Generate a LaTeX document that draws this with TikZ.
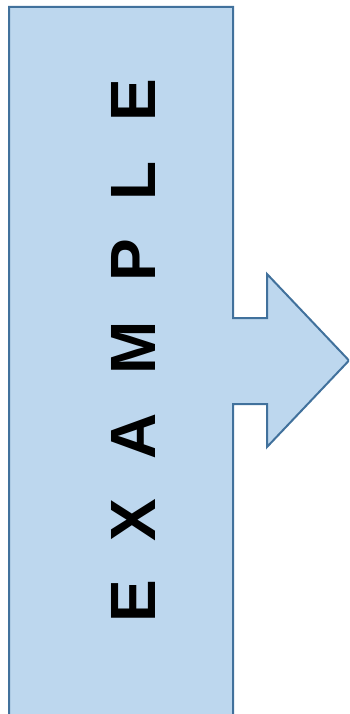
\documentclass[tikz,border=0pt]{standalone}
\usepackage{fontspec}
\setmainfont{Liberation Sans}
\definecolor{shapefill}{HTML}{BDD7EE}
\definecolor{shapeline}{HTML}{41719C}
\begin{document}
\begin{tikzpicture}[x=1pt,y=-1pt,
  banner/.style={fill=shapefill,draw=shapeline,line width=2pt,line join=miter},
  bannertext/.style={rotate=90,anchor=base west,inner sep=0pt,font=\fontsize{64}{64}\selectfont\bfseries\addfontfeature{LetterSpace=61}}]
\useasboundingbox (0,0) rectangle (349,714);
\clip (0,0) rectangle (349,714);
\draw[banner] (9,724) -- (9,7) -- (233,7) -- (233,318) -- (267,318) -- (267,274)
  -- (349,360.5) -- (267,447) -- (267,404) -- (233,404) -- (233,724) -- cycle;
\node[bannertext] (label) at (155,623) {EXAMPLE};
\end{tikzpicture}
\end{document}
